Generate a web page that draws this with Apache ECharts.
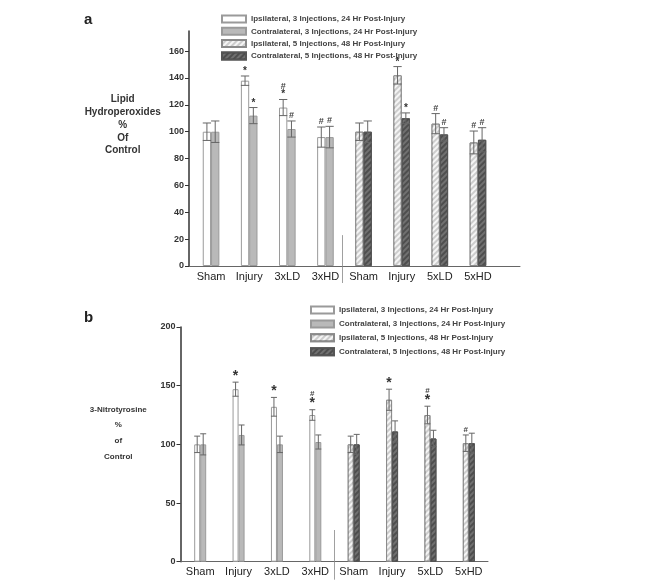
<!DOCTYPE html>
<html>
<head>
<meta charset="utf-8">
<script src="https://cdn.jsdelivr.net/npm/echarts@6/dist/echarts.min.js"></script>
<style>
html,body{margin:0;padding:0;background:#fff;}
#c{width:646px;height:586px;}
</style>
</head>
<body>
<div id="c"></div>
<script>
// ---- data ----
var categoriesA = ['Sham', 'Injury', '3xLD', '3xHD', 'Sham', 'Injury', '5xLD', '5xHD'];
var categoriesB = ['Sham', 'Injury', '3xLD', '3xHD', 'Sham', 'Injury', '5xLD', '5xHD'];
var seriesNames = [
  'Ipsilateral, 3 Injections, 24 Hr Post-Injury',
  'Contralateral, 3 Injections, 24 Hr Post-Injury',
  'Ipsilateral, 5 Injections, 48 Hr Post-Injury',
  'Contralateral, 5 Injections, 48 Hr Post-Injury'
];
// Panel a: Lipid hydroperoxides (% of control)
var ipsi3A = [100, 138, 118, 96];
var ipsi3AErr = [6.5, 3.5, 6, 7.5];
var contra3A = [100, 112, 102, 96];
var contra3AErr = [8, 6, 6, 8];
var ipsi5A = [100, 142, 106, 92];
var ipsi5AErr = [6.5, 6.5, 7.5, 8.5];
var contra5A = [100, 110, 98, 94];
var contra5AErr = [8, 4, 5, 9];
var ipsi3ASig = ['', '*', '#\n*', '#'];
var contra3ASig = ['', '*', '#', '#'];
var ipsi5ASig = ['', '*', '#', '#'];
var contra5ASig = ['', '*', '#', '#'];
// Panel b: 3-Nitrotyrosine (% of control)
var ipsi3B = [100, 147, 132, 125];
var ipsi3BErr = [7, 6, 8, 4.5];
var contra3B = [100, 108, 100, 102];
var contra3BErr = [9, 8.5, 7, 6];
var ipsi5B = [100, 138, 125, 101];
var ipsi5BErr = [7, 9, 7.5, 7];
var contra5B = [100, 111, 105, 101];
var contra5BErr = [8.5, 9, 7, 8.5];
var ipsi3BSig = ['', '*', '*', '#\n*'];
var contra3BSig = ['', '', '', ''];
var ipsi5BSig = ['', '*', '#\n*', '#'];
var contra5BSig = ['', '', '', ''];
var yTicksA = [0, 20, 40, 60, 80, 100, 120, 140, 160];
var yTicksB = [0, 50, 100, 150, 200];

// ---- styles ----
var styles = [
  {color: '#ffffff', borderColor: '#9a9a9a', borderWidth: 1},
  {color: '#b9b9b9', borderColor: '#9a9a9a', borderWidth: 1},
  {color: '#cdcdcd', borderColor: '#8a8a8a', borderWidth: 1,
   decal: {symbol: 'rect', dashArrayX: [1, 0], dashArrayY: [2, 2], rotation: -Math.PI / 4, color: 'rgba(255,255,255,0.8)'}},
  {color: '#707070', borderColor: '#555', borderWidth: 1,
   decal: {symbol: 'rect', dashArrayX: [1, 0], dashArrayY: [2, 2], rotation: -Math.PI / 4, color: 'rgba(50,50,50,0.55)'}}
];

function padLeft(arr) { return arr.concat(['-', '-', '-', '-']); }
function padRight(arr) { return ['-', '-', '-', '-'].concat(arr); }

function barSeries(name, styleIdx, data, stack, gi, bw) {
  return {
    type: 'bar', name: name, data: data, stack: stack,
    xAxisIndex: gi, yAxisIndex: gi, barWidth: bw, barGap: '0%',
    itemStyle: styles[styleIdx], emphasis: {disabled: true}, z: 2
  };
}

function errSeries(vals, errs, sigs, startIdx, side, gi, bw, starSize, hashSize) {
  var data = vals.map(function (v, i) { return [startIdx + i, v, errs[i]]; });
  return {
    type: 'custom', xAxisIndex: gi, yAxisIndex: gi, z: 5, silent: true,
    data: data,
    encode: {x: 0, y: 1},
    renderItem: function (params, api) {
      var idx = api.value(0), v = api.value(1), e = api.value(2);
      var cx = api.coord([idx, v])[0] + side * bw / 2;
      var yt = api.coord([idx, v + e])[1];
      var yb = api.coord([idx, v - e])[1];
      var hw = bw / 2;
      var ls = {stroke: '#666', lineWidth: 1};
      var children = [
        {type: 'line', shape: {x1: cx, y1: yt, x2: cx, y2: yb}, style: ls},
        {type: 'line', shape: {x1: cx - hw, y1: yt, x2: cx + hw, y2: yt}, style: ls},
        {type: 'line', shape: {x1: cx - hw, y1: yb, x2: cx + hw, y2: yb}, style: ls}
      ];
      var s = sigs[params.dataIndex];
      if (s) {
        var parts = s.split('\n').map(function (p) { return p === '*' ? '{s|*}' : '{h|#}'; });
        children.push({
          type: 'text',
          style: {
            x: cx, y: yt - 1, text: parts.join('\n'),
            align: 'center', verticalAlign: 'bottom',
            rich: {
              s: {fontSize: starSize, fontWeight: 'bold', fill: '#333', fontFamily: 'Liberation Sans', lineHeight: starSize * 0.75},
              h: {fontSize: hashSize, fontWeight: 'bold', fill: '#444', fontFamily: 'Liberation Sans', lineHeight: hashSize * 1.0}
            }
          }
        });
      }
      return {type: 'group', children: children};
    }
  };
}

var bwA = 8.3, bwB = 6;
var font = 'Liberation Sans';

var option = {
  animation: false,
  backgroundColor: '#fff',
  title: [
    {text: 'a', left: 79, top: 7, textStyle: {fontSize: 15, fontWeight: 'bold', color: '#222', fontFamily: font}},
    {text: 'b', left: 79, top: 305, textStyle: {fontSize: 15, fontWeight: 'bold', color: '#222', fontFamily: font}}
  ],
  legend: [
    {data: seriesNames, orient: 'vertical', left: 216, top: 9, itemWidth: 24, itemHeight: 7, itemGap: 2.3,
     icon: 'rect', selectedMode: false,
     textStyle: {fontSize: 8, fontWeight: 'bold', color: '#444', fontFamily: font, lineHeight: 10}},
    {data: seriesNames, orient: 'vertical', left: 305, top: 300, itemWidth: 23, itemHeight: 7, itemGap: 3.9,
     icon: 'rect', selectedMode: false,
     textStyle: {fontSize: 8, fontWeight: 'bold', color: '#444', fontFamily: font, lineHeight: 10}}
  ],
  grid: [
    {left: 192, right: 149, top: 31, bottom: 320},
    {left: 181, right: 158, top: 327, bottom: 24.3},
    {left: 189, right: 126, top: 31, bottom: 320}
  ],
  xAxis: [
    {type: 'category', gridIndex: 0, data: categoriesA,
     axisLine: {show: false}, axisTick: {show: false},
     axisLabel: {interval: 0, fontSize: 11, color: '#222', fontFamily: font, margin: 5}},
    {type: 'category', gridIndex: 1, data: categoriesB,
     axisLine: {show: true, lineStyle: {color: '#666', width: 1}}, axisTick: {show: false},
     axisLabel: {interval: 0, fontSize: 11, color: '#222', fontFamily: font, margin: 5}},
    {type: 'value', gridIndex: 2, min: 0, max: 1, splitLine: {show: false},
     axisLine: {show: true, onZero: false, lineStyle: {color: '#666', width: 1}}, axisTick: {show: false}, axisLabel: {show: false}}
  ],
  yAxis: [
    {type: 'value', gridIndex: 0, min: 0, max: 175, interval: 20, offset: 3,
     splitLine: {show: false},
     axisLine: {show: true, lineStyle: {color: '#333', width: 1.5}},
     axisTick: {show: true, length: 4, lineStyle: {color: '#333'}},
     axisLabel: {fontSize: 9, fontWeight: 'bold', color: '#333', fontFamily: font, margin: 5, showMaxLabel: false,
       formatter: function (v) { return yTicksA.indexOf(v) >= 0 ? String(v) : ''; }}},
    {type: 'value', gridIndex: 1, min: 0, max: 200, interval: 50, offset: 0.5,
     splitLine: {show: false},
     axisLine: {show: true, lineStyle: {color: '#333', width: 1.5}},
     axisTick: {show: true, length: 4, lineStyle: {color: '#333'}},
     axisLabel: {fontSize: 9, fontWeight: 'bold', color: '#333', fontFamily: font, margin: 5,
       formatter: function (v) { return yTicksB.indexOf(v) >= 0 ? String(v) : ''; }}},
    {type: 'value', gridIndex: 2, show: false, min: 0, max: 1}
  ],
  graphic: [
    {type: 'text', x: 122.7, y: 93, style: {
      text: 'Lipid\nHydroperoxides\n%\nOf\nControl', align: 'center', textAlign: 'center', verticalAlign: 'top',
      fontSize: 10, fontWeight: 'bold', fill: '#333', fontFamily: font, lineHeight: 12.8}},
    {type: 'text', x: 118.3, y: 401.5, style: {
      text: '3-Nitrotyrosine\n%\nof\nControl', align: 'center', textAlign: 'center', verticalAlign: 'top',
      fontSize: 8, fontWeight: 'bold', fill: '#333', fontFamily: font, lineHeight: 15.8}}
  ],
  series: [
    barSeries(seriesNames[0], 0, padLeft(ipsi3A), 'La', 0, bwA),
    barSeries(seriesNames[2], 2, padRight(ipsi5A), 'La', 0, bwA),
    barSeries(seriesNames[1], 1, padLeft(contra3A), 'Ra', 0, bwA),
    barSeries(seriesNames[3], 3, padRight(contra5A), 'Ra', 0, bwA),
    errSeries(ipsi3A, ipsi3AErr, ipsi3ASig, 0, -1, 0, bwA, 10, 9),
    errSeries(contra3A, contra3AErr, contra3ASig, 0, 1, 0, bwA, 10, 9),
    errSeries(ipsi5A, ipsi5AErr, ipsi5ASig, 4, -1, 0, bwA, 10, 9),
    errSeries(contra5A, contra5AErr, contra5ASig, 4, 1, 0, bwA, 10, 9),

    barSeries(seriesNames[0], 0, padLeft(ipsi3B), 'Lb', 1, bwB),
    barSeries(seriesNames[2], 2, padRight(ipsi5B), 'Lb', 1, bwB),
    barSeries(seriesNames[1], 1, padLeft(contra3B), 'Rb', 1, bwB),
    barSeries(seriesNames[3], 3, padRight(contra5B), 'Rb', 1, bwB),
    errSeries(ipsi3B, ipsi3BErr, ipsi3BSig, 0, -1, 1, bwB, 14, 8),
    errSeries(contra3B, contra3BErr, contra3BSig, 0, 1, 1, bwB, 14, 8),
    errSeries(ipsi5B, ipsi5BErr, ipsi5BSig, 4, -1, 1, bwB, 14, 8),
    errSeries(contra5B, contra5BErr, contra5BSig, 4, 1, 1, bwB, 14, 8)
  ]
};

var chart = echarts.init(document.getElementById('c'), null, {renderer: 'canvas'});
chart.setOption(option);

// group divider lines between 3x and 5x groups
function divider(axisIdx, topVal, extra) {
  var x1 = chart.convertToPixel({xAxisIndex: axisIdx}, 3);
  var x2 = chart.convertToPixel({xAxisIndex: axisIdx}, 4);
  var x = (x1 + x2) / 2 - (axisIdx === 0 ? 2 : 0);
  var yTop = chart.convertToPixel({yAxisIndex: axisIdx}, topVal);
  var yBase = chart.convertToPixel({yAxisIndex: axisIdx}, 0);
  return {type: 'line', shape: {x1: x, y1: yTop, x2: x, y2: yBase + extra}, style: {stroke: '#888', lineWidth: 0.8}, z: 10};
}
var g = option.graphic.slice();
g.push(divider(0, 23, 17));
g.push(divider(1, 27, 18));
chart.setOption({graphic: g});
</script>
</body>
</html>
